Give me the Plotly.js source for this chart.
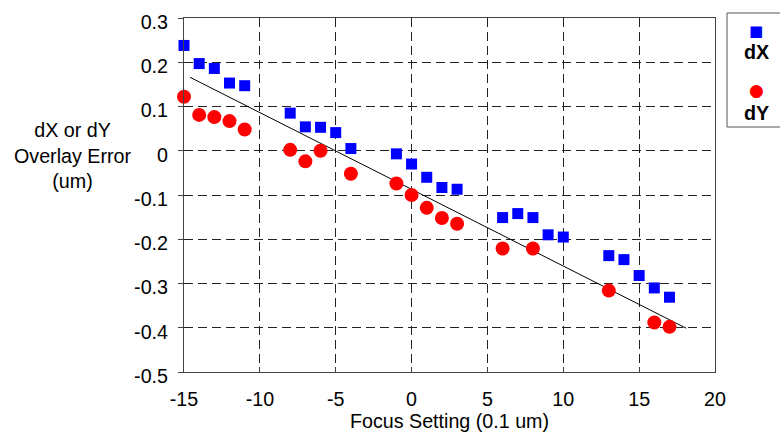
<!DOCTYPE html>
<html>
<head>
<meta charset="utf-8">
<script src="https://cdn.plot.ly/plotly-3.0.1.min.js"></script>
<style>html,body{margin:0;padding:0;background:#fff;}#chart{width:780px;height:432px;}</style>
</head>
<body>
<div id="chart"></div>
<script>
// Data
const dxFocus = [-15,-14,-13,-12,-11,-8,-7,-6,-5,-4,-1,0,1,2,3,6,7,8,9,10,13,14,15,16,17];
const dxError = [0.238,0.197,0.186,0.153,0.147,0.085,0.054,0.053,0.041,0.005,-0.007,-0.030,-0.060,-0.083,-0.087,-0.151,-0.142,-0.151,-0.190,-0.195,-0.237,-0.246,-0.282,-0.310,-0.331];
const dyFocus = [-15,-14,-13,-12,-11,-8,-7,-6,-4,-1,0,1,2,3,6,8,13,16,17];
const dyError = [0.122,0.081,0.076,0.067,0.048,0.002,-0.024,0.000,-0.052,-0.074,-0.100,-0.129,-0.152,-0.165,-0.221,-0.221,-0.316,-0.388,-0.398];
const fitFocus = [-14.6, 18.1];
const fitError = [0.166, -0.401];
const xTicks = [-15,-10,-5,0,5,10,15,20];
const yTicks = [0.3,0.2,0.1,0,-0.1,-0.2,-0.3,-0.4,-0.5];
const seriesNames = ['dX','dY'];

const FONT = 'Liberation Sans, Arial, sans-serif';
const FS = 19.7;
const PW = 531, PH = 354, L = 184, T = 18;
const px = x => (x - L) / PW;
const py = y => (T + PH - y) / PH;

const traces = [
  {x: fitFocus, y: fitError, mode:'lines', line:{color:'#000', width:1}, hoverinfo:'skip', showlegend:false},
  {x: dxFocus, y: dxError, mode:'markers', name: seriesNames[0], cliponaxis:false,
   marker:{symbol:'square', size:11, color:'#0000ff', line:{width:0}}},
  {x: dyFocus, y: dyError, mode:'markers', name: seriesNames[1], cliponaxis:false,
   marker:{symbol:'circle', size:14, color:'#ff0000', line:{width:0}}}
];

const layout = {
  width:780, height:432,
  margin:{l:L, r:780-L-PW, t:T, b:432-T-PH},
  paper_bgcolor:'#fff', plot_bgcolor:'#fff',
  font:{family:FONT, size:FS, color:'#000'},
  showlegend:false,
  xaxis:{
    range:[-15,20], tickvals:xTicks, ticktext:xTicks.map(String),
    showgrid:true, gridcolor:'#222', griddash:'9px,5px', gridwidth:1,
    zeroline:false, showline:true, linecolor:'#444', linewidth:1, mirror:true,
    ticks:'inside', ticklen:5, tickcolor:'#444',
    tickfont:{family:FONT, size:FS}, ticklabelstandoff:9,
    title:{text:'Focus Setting (0.1 um)', font:{family:FONT, size:FS}, standoff:6}
  },
  yaxis:{
    range:[-0.5,0.3], tickvals:yTicks, ticktext:yTicks.map(v=>String(v)),
    showgrid:true, gridcolor:'#222', griddash:'9px,5px', gridwidth:1,
    zeroline:false, showline:true, linecolor:'#444', linewidth:1, mirror:true,
    ticks:'outside', ticklen:5, tickcolor:'#444',
    tickfont:{family:FONT, size:FS}, ticklabelstandoff:6, ticklabelshift:4
  },
  shapes:[
    {type:'rect', xref:'paper', yref:'paper', x0:px(727), x1:px(800), y0:py(127), y1:py(13),
     line:{color:'#555', width:1}, fillcolor:'rgba(0,0,0,0)'}
  ],
  annotations:[
    {xref:'paper', yref:'paper', x:px(72), y:py(155), xanchor:'center', yanchor:'middle',
     text:'dX or dY<br>Overlay Error<br>(um)', showarrow:false, align:'center', font:{family:FONT, size:FS}},
    {xref:'paper', yref:'paper', x:px(756), y:py(31), xanchor:'center', yanchor:'middle',
     text:'■', showarrow:false, font:{family:'DejaVu Sans', size:15, color:'#0000ff'}},
    {xref:'paper', yref:'paper', x:px(756), y:py(52), xanchor:'center', yanchor:'middle',
     text:'<b>'+seriesNames[0]+'</b>', showarrow:false, font:{family:FONT, size:FS}},
    {xref:'paper', yref:'paper', x:px(756), y:py(90), xanchor:'center', yanchor:'middle',
     text:'●', showarrow:false, font:{family:'DejaVu Sans', size:17, color:'#ff0000'}},
    {xref:'paper', yref:'paper', x:px(756), y:py(113), xanchor:'center', yanchor:'middle',
     text:'<b>'+seriesNames[1]+'</b>', showarrow:false, font:{family:FONT, size:FS}}
  ]
};

Plotly.newPlot('chart', traces, layout, {staticPlot:true, displayModeBar:false});
</script>
</body>
</html>
